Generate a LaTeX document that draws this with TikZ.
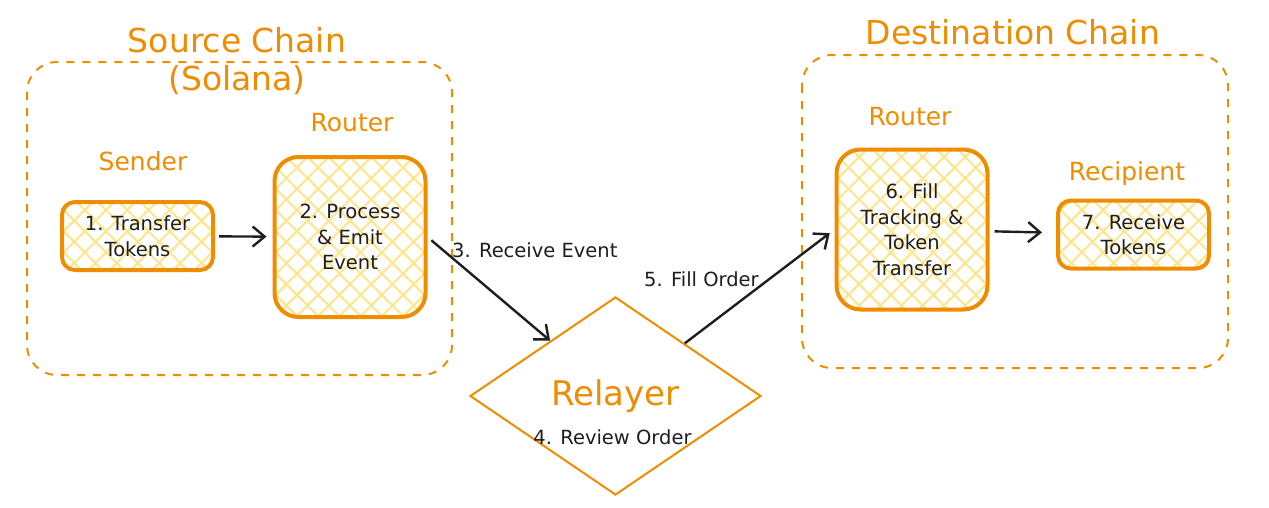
\documentclass[tikz,border=0pt]{standalone}
\usepackage{fontspec}
\setmainfont{DejaVu Sans}
\usepackage{tikz}
\usetikzlibrary{arrows.meta,shapes.geometric,patterns.meta}
\definecolor{chainorange}{HTML}{F08C00}
\definecolor{hatchyellow}{HTML}{FFE58A}
\definecolor{inkblack}{HTML}{1E1E1E}

\begin{document}
\begin{tikzpicture}[x=1pt,y=-1pt,>={Straight Barb[length=12pt,width=20pt]},
  stepbox/.style={draw=chainorange,line width=4pt,rounded corners=13pt,align=center,text=inkblack,
    minimum width=151pt,minimum height=68pt,inner sep=0pt,
    preaction={pattern={Lines[angle=45,distance=15pt,line width=2pt]},pattern color=hatchyellow},
    pattern={Lines[angle=-45,distance=15pt,line width=2pt]},pattern color=hatchyellow,
    font=\fontsize{19.5}{25.5}\selectfont},
  tallbox/.style={stepbox,minimum height=160pt,rounded corners=24pt},
  chainframe/.style={draw=chainorange,line width=2pt,dash pattern=on 8pt off 8pt,rounded corners=30pt},
  roletitle/.style={text=chainorange,font=\fontsize{25}{30}\selectfont},
  flowarrow/.style={->,draw=inkblack,line width=2.4pt},
  steplabel/.style={text=inkblack,font=\fontsize{19.5}{25}\selectfont,inner sep=0pt}]
\useasboundingbox (0,0) rectangle (1269,507);
\draw[chainframe] (27,62) rectangle (452,375);
\draw[chainframe] (802,55) rectangle (1228,368);
\node[roletitle,align=center,font=\fontsize{33}{38}\selectfont] (srctitle) at (237,61) {Source Chain\\(Solana)};
\node[roletitle,font=\fontsize{33}{38}\selectfont] (dsttitle) at (1013,32) {Destination Chain};
\node[roletitle] (sender) at (143,161) {Sender};
\node[roletitle] (srcrouter) at (352,123) {Router};
\node[roletitle] (dstrouter) at (910,117) {Router};
\node[roletitle] (recipient) at (1127,174) {Recipient};
\node[stepbox] (transfer) at (137.5,236) {1. Transfer\\Tokens};
\node[tallbox] (emit) at (350,237) {2. Process\\\& Emit\\Event};
\node[tallbox] (fill) at (912,229.5) {6. Fill\\Tracking \&\\Token\\Transfer};
\node[stepbox] (receive) at (1133.5,234.5) {7. Receive\\Tokens};
\node[diamond,draw=chainorange,line width=2pt,minimum width=291pt,minimum height=198pt,inner sep=0pt,
  text=chainorange,font=\fontsize{34}{40}\selectfont] (relayer) at (615.5,396) {Relayer};
\node[steplabel] (review) at (612.5,437) {4. Review Order};
\draw[flowarrow,shorten <=5pt,shorten >=6pt] (transfer) -- (emit);
\draw[flowarrow,shorten <=5pt] (emit.east) -- (relayer);
\draw[flowarrow,shorten >=6pt] (relayer) -- (fill.west);
\draw[flowarrow,shorten <=5pt,shorten >=14pt] (fill) -- (receive);
\node[steplabel,anchor=west] (receivelbl) at (452,250) {3. Receive Event};
\node[steplabel,anchor=west] (filllbl) at (644,279) {5. Fill Order};
\end{tikzpicture}
\end{document}
